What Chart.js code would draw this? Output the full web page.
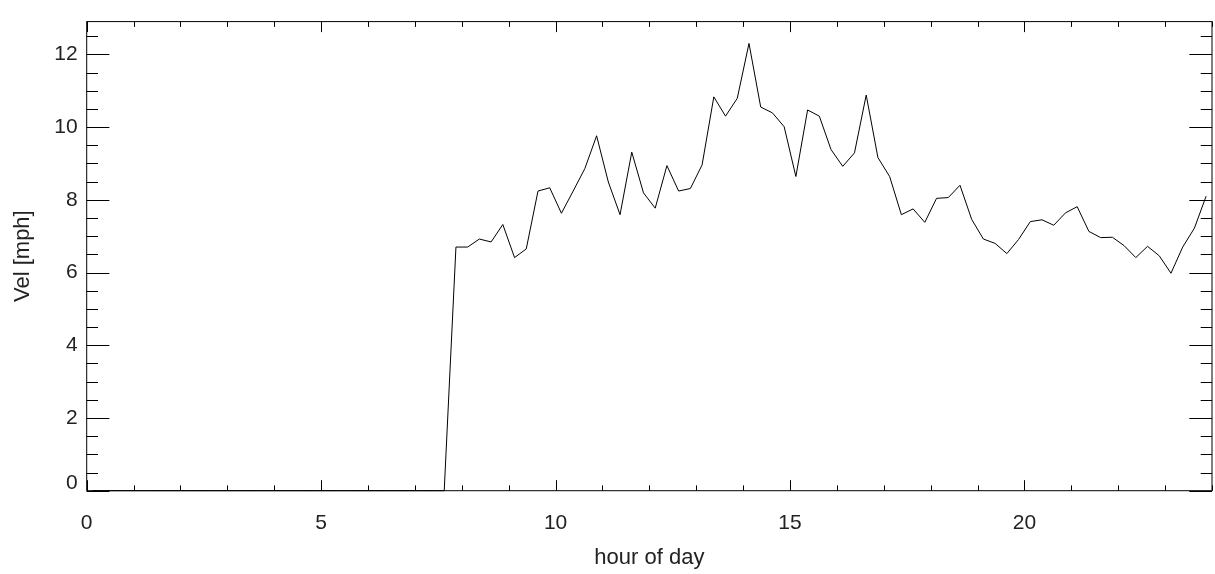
<!DOCTYPE html>
<html>
<head>
<meta charset="utf-8">
<title>Vel [mph] by hour of day</title>
<script src="https://cdn.jsdelivr.net/npm/chart.js@4.4.1/dist/chart.umd.min.js"></script>
<style>
  html, body { margin: 0; padding: 0; background: #fff; }
  #chartContainer { width: 1215px; height: 574px; }
</style>
</head>
<body>
<div id="chartContainer"><canvas id="chart" width="1215" height="574"></canvas></div>
<script>
// 15 minute bins, value plotted at the middle of each bin
const hours = [
  0.125, 0.375, 0.625, 0.875, 1.125, 1.375, 1.625, 1.875,
  2.125, 2.375, 2.625, 2.875, 3.125, 3.375, 3.625, 3.875,
  4.125, 4.375, 4.625, 4.875, 5.125, 5.375, 5.625, 5.875,
  6.125, 6.375, 6.625, 6.875, 7.125, 7.375, 7.625, 7.875,
  8.125, 8.375, 8.625, 8.875, 9.125, 9.375, 9.625, 9.875,
  10.125, 10.375, 10.625, 10.875, 11.125, 11.375, 11.625, 11.875,
  12.125, 12.375, 12.625, 12.875, 13.125, 13.375, 13.625, 13.875,
  14.125, 14.375, 14.625, 14.875, 15.125, 15.375, 15.625, 15.875,
  16.125, 16.375, 16.625, 16.875, 17.125, 17.375, 17.625, 17.875,
  18.125, 18.375, 18.625, 18.875, 19.125, 19.375, 19.625, 19.875,
  20.125, 20.375, 20.625, 20.875, 21.125, 21.375, 21.625, 21.875,
  22.125, 22.375, 22.625, 22.875, 23.125, 23.375, 23.625, 23.875
]

const velocity = [
  0, 0, 0, 0, 0, 0, 0, 0,
  0, 0, 0, 0, 0, 0, 0, 0,
  0, 0, 0, 0, 0, 0, 0, 0,
  0, 0, 0, 0, 0, 0, 0, 6.70,
  6.70, 6.92, 6.84, 7.32, 6.41, 6.65, 8.24, 8.33,
  7.63, 8.24, 8.86, 9.76, 8.49, 7.59, 9.31, 8.19,
  7.77, 8.94, 8.24, 8.31, 8.96, 10.83, 10.30, 10.79,
  12.30, 10.55, 10.39, 10.01, 8.64, 10.47, 10.30, 9.38,
  8.92, 9.29, 10.88, 9.16, 8.64, 7.59, 7.75, 7.38,
  8.04, 8.06, 8.40, 7.46, 6.92, 6.80, 6.52, 6.91,
  7.40, 7.45, 7.30, 7.64, 7.81, 7.13, 6.96, 6.97,
  6.74, 6.41, 6.72, 6.46, 5.98, 6.70, 7.22, 8.10
]

const xTickLabels = [0, 5, 10, 15, 20]
const yTickLabels = [0, 2, 4, 6, 8, 10, 12]

const xRange = [0, 24]
const yRange = [0, 12.9]

const textColor = '#222'
const fontFamily = '"Liberation Sans", Arial, Helvetica, sans-serif'
const tickFont = { family: fontFamily, size: 21 }

// IDL style box with inward ticks on all four sides
const boxTicks = {
  id: 'boxTicks',
  afterDraw(chart) {
    const ctx = chart.ctx
    const area = chart.chartArea
    const xs = chart.scales.x
    const ys = chart.scales.y

    ctx.save()
    ctx.strokeStyle = '#000'
    ctx.lineWidth = 1
    ctx.strokeRect(area.left, area.top, area.right - area.left, area.bottom - area.top)

    ctx.beginPath()
    for (let v = xRange[0]; v <= xRange[1]; v += 1) {
      const px = Math.round(xs.getPixelForValue(v)) + 0.5
      const len = (v % 5 === 0) ? 10.5 : 5.3
      ctx.moveTo(px, area.bottom)
      ctx.lineTo(px, area.bottom - len)
      ctx.moveTo(px, area.top)
      ctx.lineTo(px, area.top + len)
    }
    for (let v = yRange[0]; v <= yRange[1]; v += 0.5) {
      const py = Math.round(ys.getPixelForValue(v)) + 0.5
      const len = (v % 2 === 0) ? 22.7 : 11.3
      ctx.moveTo(area.left, py)
      ctx.lineTo(area.left + len, py)
      ctx.moveTo(area.right, py)
      ctx.lineTo(area.right - len, py)
    }
    ctx.stroke()

    // lowest y label sits just above the axis, as IDL draws it
    const low = yTickLabels[0]
    ctx.fillStyle = textColor
    ctx.font = tickFont.size + 'px ' + fontFamily
    ctx.textAlign = 'right'
    ctx.textBaseline = 'bottom'
    ctx.fillText(String(low), area.left - 9, ys.getPixelForValue(low) + 3)
    ctx.restore()
  }
}

function renderChart() {
  const ctx = document.getElementById('chart').getContext('2d')

  const chartConfig = {
    type: 'line',
    data: {
      datasets: [{
        data: hours.map((h, i) => ({ x: h, y: velocity[i] })),
        borderColor: '#000',
        borderWidth: 1,
        pointRadius: 0,
        tension: 0,
        fill: false,
        clip: false
      }]
    },
    options: {
      responsive: false,
      animation: false,
      events: [],
      layout: {
        padding: { top: 11, right: 3, left: 0, bottom: 0 }
      },
      plugins: {
        legend: { display: false },
        tooltip: { enabled: false }
      },
      scales: {
        x: {
          type: 'linear',
          position: 'bottom',
          min: xRange[0],
          max: xRange[1],
          grid: { display: false, drawTicks: false },
          border: { display: false },
          afterBuildTicks: s => { s.ticks = xTickLabels.map(v => ({ value: v })) },
          afterFit: s => { s.height = 83.3 },
          ticks: {
            color: textColor,
            font: tickFont,
            padding: 20,
            maxRotation: 0,
            autoSkip: false
          },
          title: {
            display: true,
            text: 'hour of day',
            color: textColor,
            font: { family: fontFamily, size: 22 },
            padding: { top: 0, bottom: 3 }
          }
        },
        y: {
          type: 'linear',
          min: yRange[0],
          max: yRange[1],
          grid: { display: false, drawTicks: false },
          border: { display: false },
          afterBuildTicks: s => { s.ticks = yTickLabels.map(v => ({ value: v })) },
          afterFit: s => { s.width = 86.7 },
          ticks: {
            color: textColor,
            font: tickFont,
            padding: 9,
            autoSkip: false,
            callback: v => (v === yTickLabels[0] ? '' : String(v))
          },
          title: {
            display: true,
            text: 'Vel [mph]',
            color: textColor,
            font: { family: fontFamily, size: 22 },
            padding: { top: 10, bottom: 0 }
          }
        }
      }
    },
    plugins: [boxTicks]
  }

  new Chart(ctx, chartConfig)
}

renderChart()
</script>
</body>
</html>
